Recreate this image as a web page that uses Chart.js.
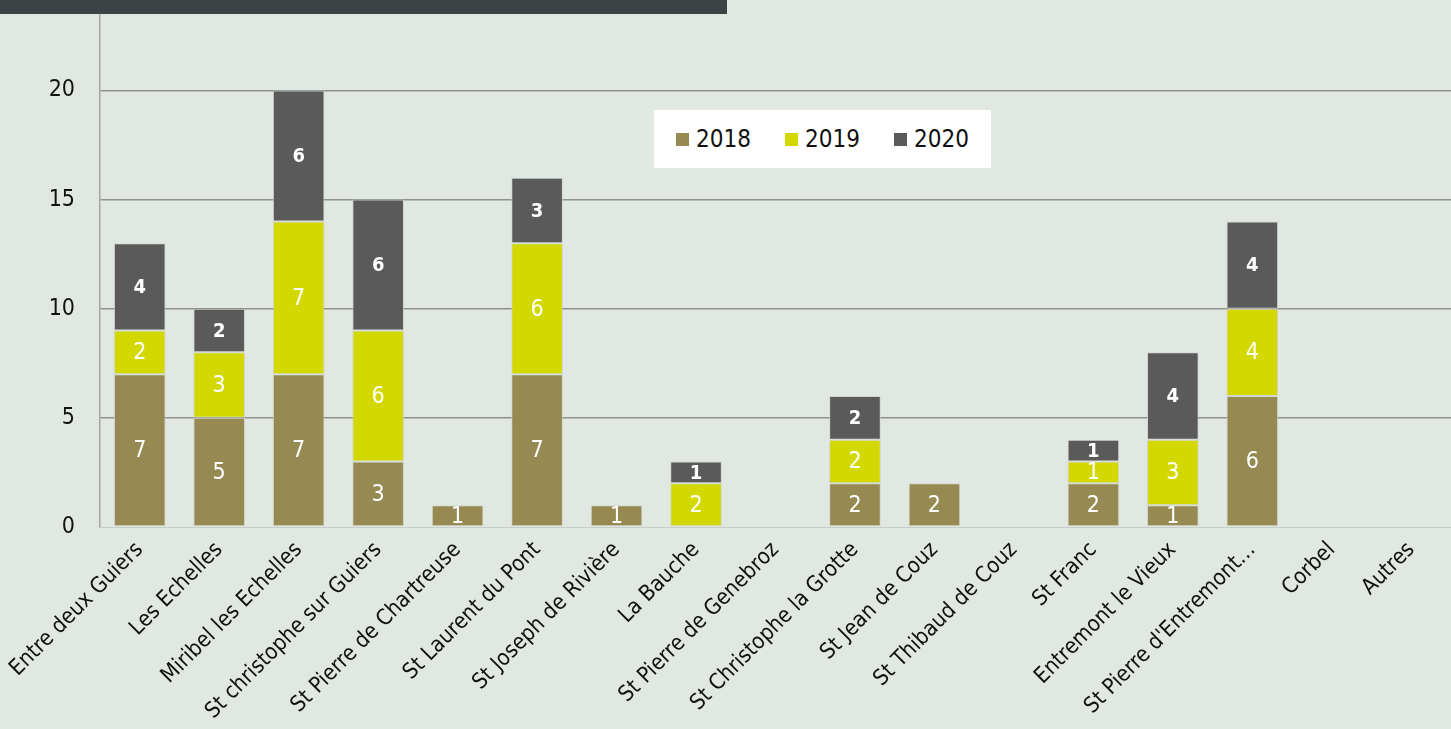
<!DOCTYPE html>
<html>
<head>
<meta charset="utf-8">
<script src="https://cdn.jsdelivr.net/npm/chart.js@4.4.0/dist/chart.umd.min.js"></script>
<style>
  html, body { margin: 0; padding: 0; background: #e0e8e1; overflow: hidden; }
  #wrap { position: relative; width: 1451px; height: 729px; }
  #topbar { position: absolute; left: 0; top: 0; width: 727px; height: 14px; background: #3d4244; }
  #legend {
    position: absolute; left: 654px; top: 110px; width: 337px; height: 58px;
    background: #fff; display: flex; align-items: center; justify-content: center; gap: 34px;
    font-family: "DejaVu Sans Condensed", "Liberation Sans Narrow", Roboto, sans-serif; font-size: 24px; color: #111;
  }
  #legend span.item { display: flex; align-items: center; gap: 7px; }
  #legend i { display: inline-block; width: 13px; height: 13px; }
</style>
</head>
<body>
<div id="wrap">
  <canvas id="chart" width="1451" height="729"></canvas>
  <div id="topbar"></div>
  <div id="legend"></div>
</div>
<script>
const categories = ['Entre deux Guiers', 'Les Echelles', 'Miribel les Echelles', 'St christophe sur Guiers',
  'St Pierre de Chartreuse', 'St Laurent du Pont', 'St Joseph de Rivière', 'La Bauche', 'St Pierre de Genebroz',
  'St Christophe la Grotte', 'St Jean de Couz', 'St Thibaud de Couz', 'St Franc', 'Entremont le Vieux',
  "St Pierre d'Entremont…", 'Corbel', 'Autres'];
const years = ['2018', '2019', '2020'];
const v2018 = [7, 5, 7, 3, 1, 7, 1, null, null, 2, 2, null, 2, 1, 6, null, null];
const v2019 = [2, 3, 7, 6, null, 6, null, 2, null, 2, null, null, 1, 3, 4, null, null];
const v2020 = [4, 2, 6, 6, null, 3, null, 1, null, 2, null, null, 1, 4, 4, null, null];
const yTicks = [0, 5, 10, 15, 20];

const colors = ['#968a52', '#d2d800', '#5a5a5a'];
const FONT = '"DejaVu Sans Condensed", "Liberation Sans Narrow", Roboto, sans-serif';

// html legend
const legendEl = document.getElementById('legend');
years.forEach((y, i) => {
  const s = document.createElement('span');
  s.className = 'item';
  s.innerHTML = '<i style="background:' + colors[i] + '"></i>' + y;
  legendEl.appendChild(s);
});

// values written in the middle of each segment
const segmentLabels = {
  id: 'segmentLabels',
  afterDatasetsDraw(chart) {
    const ctx = chart.ctx;
    ctx.save();
    ctx.fillStyle = '#fff';
    ctx.textAlign = 'center';
    ctx.textBaseline = 'middle';
    chart.data.datasets.forEach((ds, di) => {
      const meta = chart.getDatasetMeta(di);
      ctx.font = (di === 2 ? 'bold 20px ' : '23px ') + FONT;
      meta.data.forEach((bar, i) => {
        const v = ds.data[i];
        if (!v) return;
        const mid = (bar.y + bar.base) / 2;
        ctx.fillText(String(v), bar.x, mid + 1);
      });
    });
    ctx.restore();
  }
};

new Chart(document.getElementById('chart'), {
  type: 'bar',
  data: {
    labels: categories,
    datasets: [v2018, v2019, v2020].map((d, i) => ({
      label: years[i], data: d,
      backgroundColor: colors[i],
      borderColor: 'rgba(205,208,205,0.8)', borderWidth: 1, borderSkipped: false,
      barPercentage: 0.65, categoryPercentage: 1
    }))
  },
  options: {
    responsive: false, animation: false,
    layout: { padding: { top: 14, right: 0, left: 0, bottom: 0 } },
    plugins: { legend: { display: false }, tooltip: { enabled: false } },
    scales: {
      x: {
        stacked: true,
        grid: { display: false },
        border: { display: true, color: '#c9cdc9', width: 1 },
        ticks: { color: '#111', font: { family: FONT, size: 22 }, maxRotation: 45, minRotation: 45, autoSkip: false, padding: 2 },
        afterFit: s => { s.height = 202; s.paddingLeft = 0; s.paddingRight = 0; }
      },
      y: {
        stacked: true, min: 0, max: 23.5,
        afterBuildTicks: s => { s.ticks = yTicks.map(v => ({ value: v })); },
        grid: { color: c => c.tick && c.tick.value === 0 ? 'rgba(0,0,0,0)' : '#8e918e', lineWidth: 1.5, drawTicks: false },
        border: { display: true, color: '#a3a6a3', width: 1.5 },
        ticks: { color: '#111', font: { family: FONT, size: 23 }, padding: 25 },
        afterFit: s => { s.width = 100; s.paddingTop = 0; s.paddingBottom = 0; }
      }
    }
  },
  plugins: [segmentLabels]
});
</script>
</body>
</html>
